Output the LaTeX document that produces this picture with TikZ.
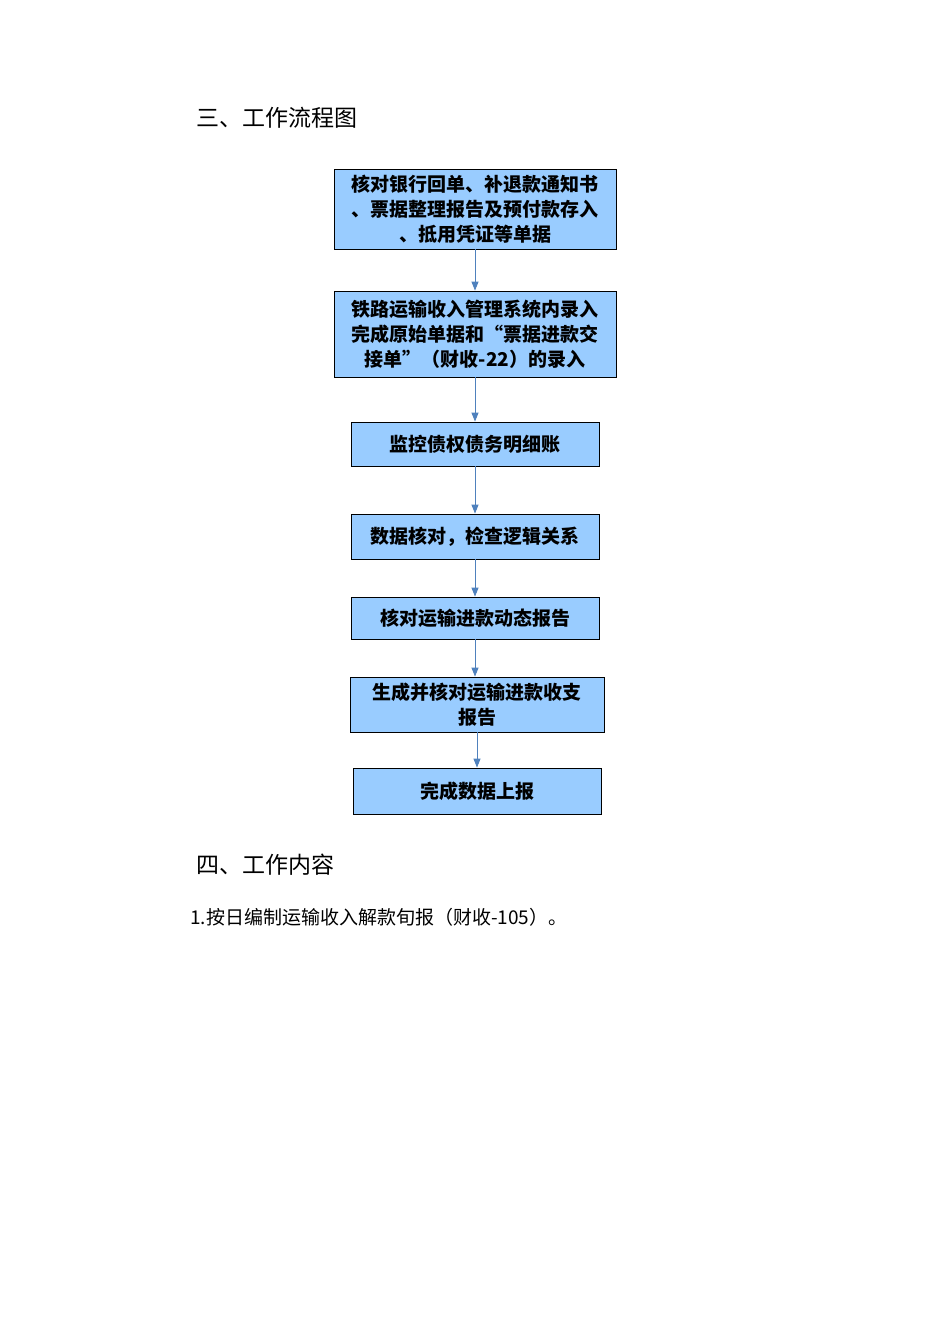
\documentclass[tikz,border=0pt]{standalone}
\usepackage{fontspec}
\setmainfont{Noto Sans CJK SC}
\usetikzlibrary{arrows.meta}
\definecolor{boxfill}{RGB}{153,204,255}
\definecolor{arr}{RGB}{79,129,189}
\begin{document}
\begin{tikzpicture}[x=1pt,y=-1pt,
  stepbox/.style={draw=black,fill=boxfill,line width=0.8pt,align=center,inner sep=0pt,
    font=\fontsize{19}{25}\selectfont\bfseries},
  conn/.style={draw=arr,line width=0.9pt,-{Triangle[length=9pt,width=7pt]}},
  head/.style={anchor=west,inner sep=0pt,font=\fontsize{23}{28}\selectfont}]
\useasboundingbox (0,0) rectangle (950,1344);
\node[head] (h1) at (196,118) {三、工作流程图};
\node[stepbox,minimum width=282pt,minimum height=80pt] (b1) at (475,209) {核对银行回单、补退款通知书\\、票据整理报告及预付款存入\\、抵用凭证等单据};
\node[stepbox,minimum width=282pt,minimum height=86pt] (b2) at (475,334) {铁路运输收入管理系统内录入\\完成原始单据和“票据进款交\\接单”（财收-22）的录入};
\node[stepbox,minimum width=248pt,minimum height=44pt] (b3) at (475,444) {监控债权债务明细账};
\node[stepbox,minimum width=248pt,minimum height=45pt] (b4) at (475,536.5) {数据核对，检查逻辑关系};
\node[stepbox,minimum width=248pt,minimum height=42pt] (b5) at (475,618) {核对运输进款动态报告};
\node[stepbox,minimum width=254pt,minimum height=55pt] (b6) at (477,704.5) {生成并核对运输进款收支\\报告};
\node[stepbox,minimum width=248pt,minimum height=46pt] (b7) at (477,791) {完成数据上报};
\draw[conn] (b1) -- (b2);
\draw[conn] (b2) -- (b3);
\draw[conn] (b3) -- (b4);
\draw[conn] (b4) -- (b5);
\draw[conn] (b5.south) -- (b5.south|-b6.north);
\draw[conn] (b6.south) -- (b6.south|-b7.north);
\node[head] (h2) at (196,865) {四、工作内容};
\node[anchor=west,inner sep=0pt,font=\fontsize{19}{24}\selectfont] (t1) at (190,917) {1.按日编制运输收入解款旬报（财收-105）。};
\end{tikzpicture}
\end{document}
